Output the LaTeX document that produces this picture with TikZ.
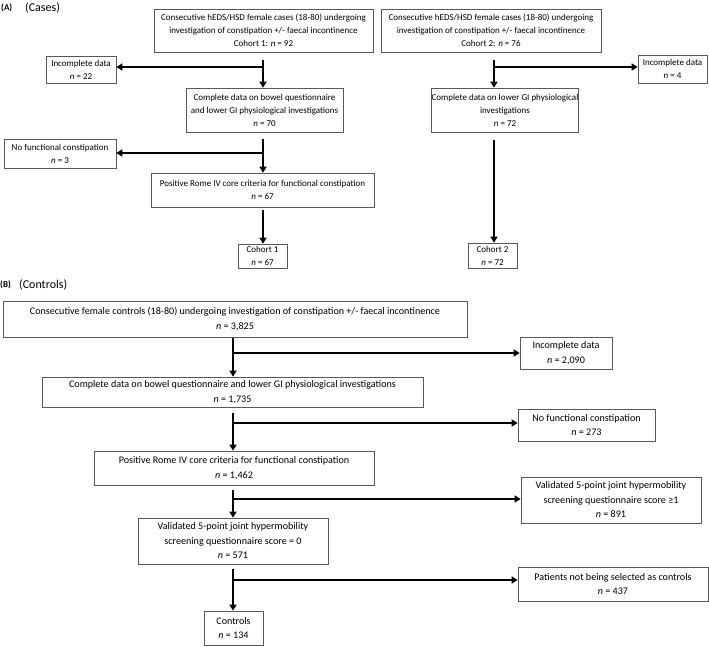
\documentclass[tikz,border=0pt]{standalone}
\usepackage{fontspec}
\setmainfont{Carlito}
\usetikzlibrary{arrows.meta}
\begin{document}
\begin{tikzpicture}[x=1pt,y=-1pt,
  boxa/.style={draw=black!65,line width=0.7pt,rectangle,inner sep=0pt,align=center,font=\fontsize{9}{13}\selectfont},
  boxb/.style={draw=black!65,line width=0.7pt,rectangle,inner sep=0pt,align=center,font=\fontsize{10.1}{14.5}\selectfont},
  arr/.style={line width=2.2pt,-{Triangle[length=6pt,width=7pt]}}]
\useasboundingbox (0,0) rectangle (709,646);
% panel labels
\node[anchor=west,inner sep=0pt,font=\fontsize{9}{10}\selectfont\bfseries] (labA) at (1,8) {(A)};
\node[anchor=west,inner sep=0pt,font=\fontsize{12}{13}\selectfont] (labAc) at (25,8) {(Cases)};
\node[anchor=west,inner sep=0pt,font=\fontsize{9}{10}\selectfont\bfseries] (labB) at (0,285) {(B)};
\node[anchor=west,inner sep=0pt,font=\fontsize{12}{13}\selectfont] (labBc) at (19,285) {(Controls)};
% Panel A, cohort 1
\node[boxa,minimum width=219,minimum height=43] (a1) at (263.5,30.5) {Consecutive hEDS/HSD female cases (18-80) undergoing\\investigation of constipation +/- faecal incontinence\\Cohort 1: \textit{n} = 92};
\node[boxa,minimum width=70,minimum height=27] (inca1) at (81,69.5) {Incomplete data\\\textit{n} = 22};
\node[boxa,minimum width=157,minimum height=44] (compa1) at (264.5,110) {Complete data on bowel questionnaire\\and lower GI physiological investigations\\\textit{n} = 70};
\node[boxa,minimum width=112,minimum height=29] (nfca) at (60,153.5) {No functional constipation\\\textit{n} = 3};
\node[boxa,minimum width=223,minimum height=34] (romea) at (262.5,190) {Positive Rome IV core criteria for functional constipation\\\textit{n} = 67};
\node[boxa,minimum width=49,minimum height=24] (coh1) at (262.5,256) {Cohort 1\\\textit{n} = 67};
% Panel A, cohort 2
\node[boxa,minimum width=220,minimum height=43] (a2) at (491,30.5) {Consecutive hEDS/HSD female cases (18-80) undergoing\\investigation of constipation +/- faecal incontinence\\Cohort 2: \textit{n} = 76};
\node[boxa,minimum width=69,minimum height=28] (inca2) at (672.5,69) {Incomplete data\\\textit{n} = 4};
\node[boxa,minimum width=124,minimum height=44] (compa2) at (505,110) {Complete data on lower GI physiological\\investigations\\\textit{n} = 72};
\node[boxa,minimum width=49,minimum height=25] (coh2) at (492.5,255.5) {Cohort 2\\\textit{n} = 72};
% Panel B
\node[boxb,minimum width=464,minimum height=36] (b1) at (235,319) {Consecutive female controls (18-80) undergoing investigation of constipation +/- faecal incontinence\\\textit{n} = 3,825};
\node[boxb,minimum width=92,minimum height=32] (incb) at (566,353) {Incomplete data\\\textit{n} = 2,090};
\node[boxb,minimum width=381,minimum height=30] (compb) at (232.5,392) {Complete data on bowel questionnaire and lower GI physiological investigations\\\textit{n} = 1,735};
\node[boxb,minimum width=137,minimum height=32] (nfcb) at (586.5,425) {No functional constipation\\\textit{n} = 273};
\node[boxb,minimum width=280,minimum height=34] (romeb) at (234,468) {Positive Rome IV core criteria for functional constipation\\\textit{n} = 1,462};
\node[boxb,minimum width=180,minimum height=46] (val1) at (611,500) {Validated 5-point joint hypermobility\\screening questionnaire score ≥1\\\textit{n} = 891};
\node[boxb,minimum width=190,minimum height=46] (val0) at (233,541) {Validated 5-point joint hypermobility\\screening questionnaire score = 0\\\textit{n} = 571};
\node[boxb,minimum width=190,minimum height=34] (pns) at (613,584) {Patients not being selected as controls\\\textit{n} = 437};
\node[boxb,minimum width=59,minimum height=34] (ctrls) at (233.5,628) {Controls\\\textit{n} = 134};
% connectors panel A
\coordinate (s1) at (263,60);
\coordinate (j1) at (263,67);
\draw[arr] (s1) -- (s1 |- compa1.north);
\draw[arr] (j1) -- (j1 -| inca1.east);
\coordinate (s2) at (263,139);
\coordinate (j2) at (263,153);
\draw[arr] (s2) -- (s2 |- romea.north);
\draw[arr] (j2) -- (j2 -| nfca.east);
\coordinate (s3) at (263,210);
\draw[arr] (s3) -- (s3 |- coh1.north);
\coordinate (s4) at (494,60);
\coordinate (j4) at (494,67);
\draw[arr] (s4) -- (s4 |- compa2.north);
\draw[arr] (j4) -- (j4 -| inca2.west);
\coordinate (s5) at (494,140);
\draw[arr] (s5) -- (s5 |- coh2.north);
% connectors panel B
\coordinate (t1) at (233,338);
\coordinate (k1) at (233,353);
\draw[arr] (t1) -- (t1 |- compb.north);
\draw[arr] (k1) -- (k1 -| incb.west);
\coordinate (t2) at (233,413);
\coordinate (k2) at (233,423);
\draw[arr] (t2) -- (t2 |- romeb.north);
\draw[arr] (k2) -- (k2 -| nfcb.west);
\coordinate (t3) at (233,490);
\coordinate (k3) at (233,499);
\draw[arr] (t3) -- (t3 |- val0.north);
\draw[arr] (k3) -- (k3 -| val1.west);
\coordinate (t4) at (233,569);
\coordinate (k4) at (233,580);
\draw[arr] (t4) -- (t4 |- ctrls.north);
\draw[arr] (k4) -- (k4 -| pns.west);
\end{tikzpicture}
\end{document}
